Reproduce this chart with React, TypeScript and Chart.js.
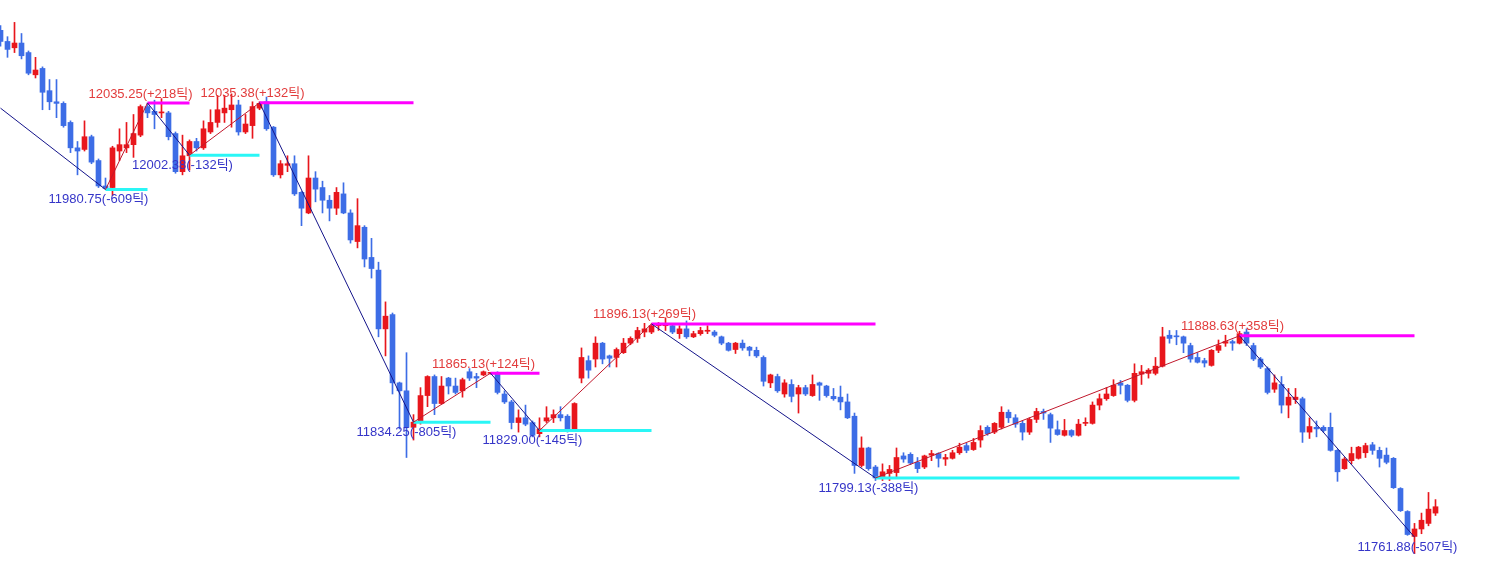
import { useEffect, useRef } from "react";
import { Chart, registerables } from "chart.js";

Chart.register(...registerables);

// ---- candle data (price) ----
const opens = [
  12081, 12074, 12070, 12073, 12067, 12053, 12057, 12043, 12036, 12035,
  12023, 12007, 12006, 12014, 11999, 11983, 11982, 12005, 12007, 12009,
  12015, 12033, 12030, 12029, 12029, 12016, 11992, 12002, 12011, 12007,
  12017, 12023, 12029, 12031, 12034, 12017, 12021, 12032, 12036, 12020,
  11990, 11996, 11997, 11979, 11966, 11988, 11982, 11974, 11969, 11978,
  11966, 11948, 11957, 11938, 11930, 11893, 11902, 11859, 11854, 11831,
  11834, 11851, 11863, 11846, 11862, 11857, 11854, 11866, 11863, 11864,
  11865, 11865, 11852, 11847, 11834, 11837, 11834, 11827, 11835, 11837,
  11839, 11838, 11830, 11862, 11873, 11874, 11884, 11876, 11875, 11878,
  11884, 11887, 11891, 11891, 11895, 11895, 11895, 11890, 11893, 11888,
  11890, 11891.5, 11891, 11888, 11884, 11880, 11884, 11881.5, 11879.5, 11875,
  11859, 11863, 11852, 11858, 11852, 11856, 11851, 11859, 11857, 11850.5,
  11850, 11847, 11838, 11807, 11818, 11806, 11799.5, 11802, 11802.5, 11813,
  11814, 11809, 11806, 11813.5, 11814.5, 11811, 11811.5, 11815, 11819.5, 11817,
  11823, 11831, 11828, 11831, 11840.5, 11837, 11833.5, 11828, 11836, 11841,
  11839, 11829.5, 11826, 11829, 11826, 11833.5, 11833.5, 11845, 11849, 11851,
  11859, 11857.5, 11848, 11864.5, 11865, 11865, 11869.5, 11889, 11888.5, 11888,
  11882.5, 11875, 11873, 11870, 11879.5, 11884, 11885, 11884, 11891, 11882.5,
  11874, 11868, 11855, 11858, 11845, 11848.5, 11849, 11828, 11831, 11831,
  11831, 11816.5, 11805, 11810, 11811.5, 11815, 11820, 11816.5, 11813.5, 11811.5,
  11792.5, 11778, 11762.3, 11767, 11770.5, 11777,
];

const highs = [
  12084, 12077, 12086, 12079, 12068, 12064, 12058, 12050, 12050, 12036,
  12024, 12011, 12024, 12015, 12000, 11988, 12008, 12019, 12023, 12028,
  12034, 12035.25, 12037, 12038, 12030, 12017, 12015, 12012, 12013, 12024,
  12031, 12040, 12040, 12041, 12037, 12028, 12036, 12036, 12039, 12020.5,
  11999, 12002, 12002, 11979.5, 12002, 11992, 11986, 11977, 11982, 11985,
  11968, 11975, 11958, 11950, 11935, 11910, 11903, 11859.5, 11878, 11839,
  11856, 11863.5, 11864, 11863, 11862.5, 11862, 11862, 11868, 11865, 11866.5,
  11865.5, 11866, 11854, 11848, 11842, 11845, 11835, 11837, 11844, 11842,
  11844, 11839, 11846.5, 11881, 11876, 11888, 11884.5, 11876.5, 11881, 11887,
  11888, 11894, 11896.5, 11896.13, 11897, 11900, 11896.5, 11895, 11898, 11891.5,
  11894, 11895, 11892, 11888.5, 11884.5, 11884.5, 11886, 11882, 11881.5, 11876,
  11864.5, 11864.5, 11861, 11861, 11857.5, 11857.5, 11864, 11859.5, 11857.5, 11855.5,
  11857, 11852, 11840, 11825, 11818.5, 11807, 11808, 11807, 11818, 11815,
  11815, 11812, 11813.5, 11816.5, 11815, 11814, 11816.5, 11821, 11821, 11824,
  11832, 11832, 11834, 11844, 11842, 11839, 11835, 11837, 11843, 11842.5,
  11840, 11835, 11836, 11829.5, 11836, 11837, 11847, 11852, 11856, 11861,
  11860.5, 11858, 11871, 11870, 11868, 11875, 11894, 11892, 11892, 11888.5,
  11884, 11878, 11874.5, 11880, 11886, 11889, 11886, 11891.5, 11893, 11884,
  11875, 11869, 11864, 11863, 11855.5, 11855.5, 11850, 11837, 11835, 11832,
  11840, 11817, 11812, 11818.5, 11819, 11821, 11821.5, 11818.5, 11818, 11812,
  11793, 11778.5, 11770.5, 11777, 11790, 11785.5,
];

const lows = [
  12071, 12064, 12067, 12063, 12053, 12051, 12031, 12031, 12026, 12020,
  12004, 11990, 12005, 11997, 11982, 11980.75, 11977, 11999, 12004, 12001,
  12014, 12026, 12019, 12026, 12012, 11991, 11990, 11993, 12005, 12006,
  12016, 12020, 12023, 12020, 12015, 12016, 12013, 12031, 12018, 11989,
  11988, 11992, 11977, 11958, 11965.5, 11973, 11966, 11961, 11965, 11965.5,
  11947, 11944, 11932, 11925, 11888, 11876, 11852, 11830, 11812, 11823,
  11833, 11844, 11839, 11845.5, 11852, 11852, 11850, 11860.5, 11856, 11863.5,
  11864.5, 11852, 11846, 11830, 11828, 11832, 11825, 11825, 11834, 11834,
  11835, 11828, 11828.5, 11859, 11862, 11869, 11871, 11869, 11869, 11877.5,
  11883, 11884.5, 11888, 11890, 11892, 11892, 11890, 11887, 11887, 11887.5,
  11889, 11890, 11888, 11883, 11879, 11877.5, 11879.5, 11876, 11875, 11857,
  11856, 11853, 11850, 11847, 11840, 11851, 11850.5, 11848, 11850, 11848,
  11842, 11836.5, 11802, 11806, 11804, 11797.5, 11797.5, 11797.5, 11799.5, 11809,
  11807.5, 11802.5, 11805, 11810, 11806, 11807, 11811, 11814, 11815, 11816.5,
  11818.5, 11826, 11827, 11830, 11834, 11831, 11823, 11826.5, 11834, 11836,
  11821.5, 11826, 11825.5, 11825, 11825.5, 11832, 11833, 11842, 11848, 11850.5,
  11852, 11847, 11847, 11858, 11862, 11864, 11869, 11884, 11883, 11878,
  11872, 11871.5, 11869, 11869.5, 11878, 11882, 11879.5, 11883.5, 11882.5, 11873,
  11868, 11852, 11853, 11840, 11837, 11846, 11821.5, 11824, 11825, 11828,
  11816, 11797, 11804.5, 11808, 11811, 11812, 11814, 11806, 11808, 11792.5,
  11778, 11763, 11751.5, 11764, 11769, 11775.5,
];

const closes = [
  12074, 12069, 12073, 12065, 12054, 12056, 12042, 12036, 12035, 12021,
  12007, 12005, 12014, 11998, 11983, 11981.5, 12007, 12009, 12009, 12016,
  12033, 12029, 12028, 12029.5, 12014, 11992, 12002, 12011, 12007, 12019,
  12023, 12031, 12032, 12034, 12017, 12022, 12033, 12035, 12019, 11990,
  11997, 11997, 11978, 11969, 11988, 11981, 11974, 11969, 11979, 11966,
  11949, 11958, 11937, 11931, 11893, 11901, 11859, 11854, 11831, 11834.25,
  11851, 11863, 11846, 11857, 11857, 11853, 11861, 11862, 11862, 11866,
  11865.13, 11853, 11847, 11834, 11837, 11833, 11826, 11830, 11837, 11839,
  11837, 11829, 11846, 11875, 11867, 11884, 11874, 11874.5, 11880, 11884,
  11887, 11892, 11893, 11895, 11896.5, 11896, 11891, 11893, 11888, 11890,
  11892, 11892, 11889, 11884, 11879.5, 11884, 11881, 11879.5, 11876, 11860,
  11864, 11854, 11859, 11850.5, 11856, 11852, 11858, 11857.5, 11851, 11849,
  11847, 11837, 11807, 11818, 11805, 11799.13, 11803, 11804.5, 11812, 11811,
  11808.5, 11805, 11813, 11814.5, 11811.5, 11812, 11815, 11818.5, 11816.5, 11821.5,
  11829, 11827, 11833.5, 11840.5, 11837, 11833, 11828, 11836, 11841, 11840,
  11830.5, 11826.5, 11829, 11826, 11833, 11834, 11845, 11849, 11852, 11857.5,
  11857.5, 11848, 11865, 11866, 11867, 11869.5, 11888, 11887, 11888, 11884,
  11874, 11872, 11871.5, 11879.5, 11882.5, 11885, 11884, 11890, 11884, 11874,
  11869, 11853, 11859, 11845, 11850, 11850, 11828, 11831.5, 11830, 11829,
  11816.5, 11803, 11811, 11814.5, 11818.5, 11819.5, 11816.5, 11811.5, 11809, 11793,
  11778.5, 11763.5, 11767, 11772.5, 11779.5, 11781,
];

// ---- zigzag pivots ----
const zigzagStartIndex = 0;
const zigzagStartPrice = 12032;
const pivotIndex = [15, 21, 27, 37, 59, 70, 77, 93, 125, 177, 202];
const pivotPrice = [11980.75, 12035.25, 12002.38, 12035.38, 11834.25, 11865.13, 11829.0, 11896.13, 11799.13, 11888.63, 11761.88];
const pivotTicks = [-609, 218, -132, 132, -805, 124, -145, 269, -388, 358, -507];

// ---- visible price window ----
const priceMin = 11746.2;
const priceMax = 12100.1;

const WIDTH = 1486;
const HEIGHT = 562;
const SLOT = 7; // px per candle
const UP = "#e8161c";
const DOWN = "#3d6de6";
const ZZ_UP = "#c0182c";
const ZZ_DOWN = "#14148a";
const MAGENTA = "#ff00ff";
const CYAN = "#2af6f6";
const LABEL_UP = "#e23c3c";
const LABEL_DOWN = "#3535c8";

function labelText(price: number, ticks: number) {
  return price.toFixed(2) + "(" + (ticks > 0 ? "+" : "") + ticks + "틱)";
}

const labelPlugin = {
  id: "pivotLabels",
  afterDatasetsDraw(chart: any) {
    const { ctx } = chart;
    const xs = chart.scales.x;
    const ys = chart.scales.y;
    ctx.save();
    ctx.font = '13px "Liberation Sans", "Noto Sans CJK KR", sans-serif';
    ctx.textAlign = "center";
    ctx.textBaseline = "middle";
    pivotIndex.forEach((idx, k) => {
      const t = pivotTicks[k];
      const px = xs.getPixelForValue(idx - 1);
      const py = ys.getPixelForValue(pivotPrice[k]);
      ctx.fillStyle = t > 0 ? LABEL_UP : LABEL_DOWN;
      ctx.fillText(labelText(pivotPrice[k], t), px, t > 0 ? py - 9 : py + 10);
    });
    ctx.restore();
  },
};

export default function App() {
  const ref = useRef<HTMLCanvasElement | null>(null);

  useEffect(() => {
    if (!ref.current) return;
    const idx = opens.map((_, i) => i);
    const colors = idx.map((i) => (closes[i] >= opens[i] ? UP : DOWN));

    const levelSets: any[] = [];
    for (let k = 0; k < pivotIndex.length - 1; k++) {
      levelSets.push({
        type: "line",
        data: [
          { x: pivotIndex[k], y: pivotPrice[k] },
          { x: pivotIndex[k + 1], y: pivotPrice[k] },
        ],
        borderColor: pivotTicks[k] > 0 ? MAGENTA : CYAN,
        borderWidth: 3,
        pointRadius: 0,
        fill: false,
        order: 3,
      });
    }

    const zigzag = [{ x: zigzagStartIndex, y: zigzagStartPrice }].concat(
      pivotIndex.map((p, k) => ({ x: p, y: pivotPrice[k] }))
    );

    const chart = new Chart(ref.current, {
      type: "bar",
      data: {
        datasets: [
          {
            type: "bar",
            data: idx.map((i) => ({ x: i, y: [lows[i], highs[i]] })),
            backgroundColor: colors,
            barThickness: 1,
            grouped: false,
            minBarLength: 1,
            order: 5,
          } as any,
          {
            type: "bar",
            data: idx.map((i) => ({ x: i, y: [opens[i], closes[i]] })),
            backgroundColor: colors,
            barThickness: 5,
            grouped: false,
            minBarLength: 1,
            order: 4,
          } as any,
          ...levelSets,
          {
            type: "line",
            data: zigzag,
            borderWidth: 1,
            pointRadius: 0,
            fill: false,
            tension: 0,
            borderColor: ZZ_DOWN,
            segment: {
              borderColor: (c: any) => (c.p1.parsed.y >= c.p0.parsed.y ? ZZ_UP : ZZ_DOWN),
            },
            order: 1,
          } as any,
        ],
      },
      options: {
        responsive: false,
        animation: false,
        devicePixelRatio: 1,
        events: [],
        layout: { padding: 0, autoPadding: false } as any,
        plugins: { legend: { display: false }, tooltip: { enabled: false } },
        scales: {
          x: {
            type: "linear",
            min: -0.5 / SLOT,
            max: (WIDTH - 0.5) / SLOT,
            offset: false,
            display: false,
          },
          y: {
            type: "linear",
            min: priceMin,
            max: priceMax,
            beginAtZero: false,
            display: false,
          },
        },
      } as any,
      plugins: [labelPlugin],
    });
    return () => chart.destroy();
  }, []);

  return (
    <div style={{ position: "absolute", left: 0, top: 0, width: WIDTH, height: HEIGHT, background: "#ffffff" }}>
      <canvas ref={ref} width={WIDTH} height={HEIGHT} style={{ display: "block" }} />
    </div>
  );
}
